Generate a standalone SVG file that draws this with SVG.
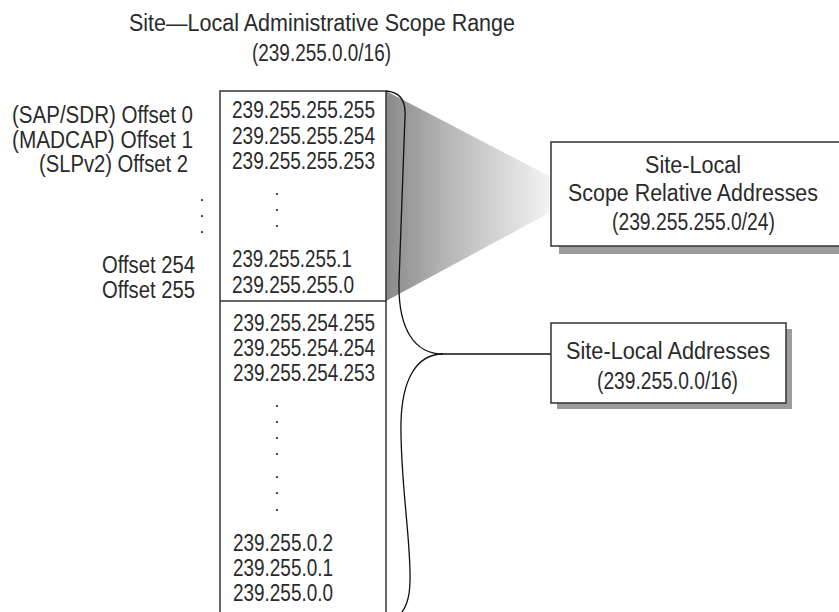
<svg xmlns="http://www.w3.org/2000/svg" width="839" height="612" viewBox="0 0 839 612">
<defs>
<linearGradient id="fan" x1="386" y1="0" x2="551" y2="0" gradientUnits="userSpaceOnUse">
<stop offset="0" stop-color="#8a8a8a"/>
<stop offset="0.35" stop-color="#b4b4b4"/>
<stop offset="1" stop-color="#f4f4f4"/>
</linearGradient>
<style>
text{font-family:"Liberation Sans Narrow","Liberation Sans",Arial,sans-serif;font-size:23px;fill:#2a2a2a}
.box{fill:#fff;stroke:#333;stroke-width:1.5}
.shadow{fill:#9c9c9c}
.conn{fill:none;stroke:#111;stroke-width:1.3}
.dot{text-anchor:middle;font-family:"Liberation Sans",Arial,sans-serif;font-size:12px;font-weight:bold}
</style>
</defs>
<rect width="839" height="612" fill="#fff"/>
<g id="title">
<text x="129" y="31" textLength="386" lengthAdjust="spacingAndGlyphs">Site—Local Administrative Scope Range</text>
<text x="252" y="61" textLength="139" lengthAdjust="spacingAndGlyphs">(239.255.0.0/16)</text>
</g>
<g id="offsets">
<text x="12" y="123" textLength="181" lengthAdjust="spacingAndGlyphs">(SAP/SDR) Offset 0</text>
<text x="12" y="148" textLength="181" lengthAdjust="spacingAndGlyphs">(MADCAP) Offset 1</text>
<text x="39" y="172" textLength="149" lengthAdjust="spacingAndGlyphs">(SLPv2) Offset 2</text>
<text class="dot" x="202" y="201">.</text>
<text class="dot" x="202" y="217">.</text>
<text class="dot" x="202" y="233">.</text>
<text x="102" y="273" textLength="93" lengthAdjust="spacingAndGlyphs">Offset 254</text>
<text x="102" y="298" textLength="93" lengthAdjust="spacingAndGlyphs">Offset 255</text>
</g>
<g id="fan-shade">
<polygon points="386,91 551,177 551,212 386,301" fill="url(#fan)"/>
</g>
<g id="range-table">
<rect class="box" x="220" y="91" width="166" height="540"/>
<line x1="220" y1="301" x2="386" y2="301" stroke="#333" stroke-width="1.5"/>
<text x="232" y="118" textLength="143" lengthAdjust="spacingAndGlyphs">239.255.255.255</text>
<text x="232" y="144" textLength="143" lengthAdjust="spacingAndGlyphs">239.255.255.254</text>
<text x="232" y="169" textLength="143" lengthAdjust="spacingAndGlyphs">239.255.255.253</text>
<text class="dot" x="277" y="195">.</text>
<text class="dot" x="277" y="211">.</text>
<text class="dot" x="277" y="227">.</text>
<text x="232" y="267" textLength="120" lengthAdjust="spacingAndGlyphs">239.255.255.1</text>
<text x="232" y="293" textLength="122" lengthAdjust="spacingAndGlyphs">239.255.255.0</text>
<text x="233" y="331" textLength="142" lengthAdjust="spacingAndGlyphs">239.255.254.255</text>
<text x="233" y="356" textLength="142" lengthAdjust="spacingAndGlyphs">239.255.254.254</text>
<text x="233" y="381" textLength="142" lengthAdjust="spacingAndGlyphs">239.255.254.253</text>
<text class="dot" x="277" y="407">.</text>
<text class="dot" x="277" y="423">.</text>
<text class="dot" x="277" y="439">.</text>
<text class="dot" x="277" y="455">.</text>
<text class="dot" x="277" y="478">.</text>
<text class="dot" x="277" y="494">.</text>
<text class="dot" x="277" y="511">.</text>
<text x="233" y="551" textLength="100" lengthAdjust="spacingAndGlyphs">239.255.0.2</text>
<text x="233" y="576" textLength="100" lengthAdjust="spacingAndGlyphs">239.255.0.1</text>
<text x="233" y="601" textLength="100" lengthAdjust="spacingAndGlyphs">239.255.0.0</text>
</g>
<g id="connectors">
<path class="conn" d="M386,91 C400,92 406,100 405,116 L399,282 C398,330 415,354 443,354"/>
<path class="conn" d="M443,354 C415,354 402,382 401,422 C400,480 411,540 410,580 C410,600 405,610 397,618"/>
<line class="conn" x1="443" y1="354" x2="551" y2="354"/>
</g>
<g id="scope-relative">
<rect class="shadow" x="559" y="150" width="290" height="104"/>
<rect class="box" x="551" y="142" width="290" height="104"/>
<text x="645" y="173" textLength="96" lengthAdjust="spacingAndGlyphs">Site-Local</text>
<text x="568" y="201" textLength="250" lengthAdjust="spacingAndGlyphs">Scope Relative Addresses</text>
<text x="612" y="230" textLength="163" lengthAdjust="spacingAndGlyphs">(239.255.255.0/24)</text>
</g>
<g id="site-local">
<rect class="shadow" x="557" y="329" width="235" height="80"/>
<rect class="box" x="551" y="323" width="235" height="80"/>
<text x="566" y="359" textLength="204" lengthAdjust="spacingAndGlyphs">Site-Local Addresses</text>
<text x="597" y="389" textLength="141" lengthAdjust="spacingAndGlyphs">(239.255.0.0/16)</text>
</g>
</svg>
